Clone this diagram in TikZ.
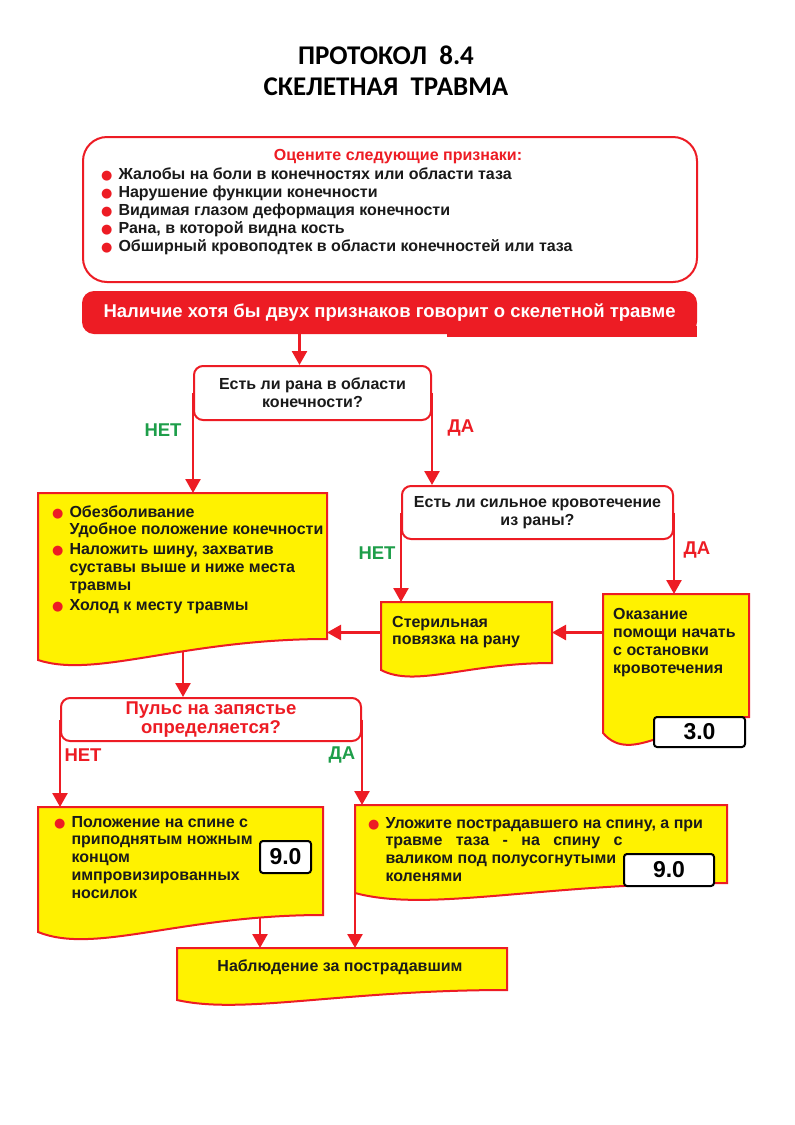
\documentclass[tikz,border=0pt]{standalone}
\usepackage{fontspec}
\setmainfont{Liberation Sans}
\newfontfamily\titlefont{Carlito}
\newfontfamily\dotfont{DejaVu Sans}
\usetikzlibrary{positioning,arrows.meta,calc,backgrounds}
\definecolor{pred}{HTML}{ED1C24}
\definecolor{pyellow}{HTML}{FFF200}
\definecolor{pgreen}{HTML}{1E9E4A}
\definecolor{pdark}{HTML}{1A1A1A}
\newcommand{\bul}{{\dotfont\fontsize{13}{13}\selectfont\textcolor{pred}{●}}}
\newcommand{\bodyfont}{\bfseries\fontsize{16}{17.8}\selectfont}
% yellow document shape on a frame node: node, left drop, trough
\newcommand{\docshape}[3]{%
  \path[docline] (#1.north west) -- (#1.north east) -- (#1.south east)
    .. controls ($(#1.south west)!0.5!(#1.south east)$) and ($(#1.south west)!0.2!(#1.south east)+(0,#3)$)
    .. ($(#1.south west)+(0,#2)$) -- cycle;}
\tikzset{
  arr/.style={draw=pred, line width=2.5pt, -{Triangle[width=15pt,length=14pt]}},
  qbox/.style={draw=pred, line width=2pt, rounded corners=9pt, fill=white, inner sep=0pt,
    anchor=north west, align=center, font=\bodyfont, text=pdark},
  docline/.style={draw=pred, line width=2pt, fill=pyellow},
  docframe/.style={draw=none, inner sep=0pt, outer sep=0pt, anchor=north west},
  numbox/.style={draw=black, line width=2pt, fill=white, rounded corners=3pt, inner sep=0pt,
    anchor=north west, font=\bfseries\fontsize{23}{23}\selectfont},
  txt/.style={anchor=north west, inner sep=0pt, font=\bodyfont, text=pdark},
  lblgreen/.style={font=\bfseries\fontsize{18.5}{18.5}\selectfont, text=pgreen},
  lblred/.style={font=\bfseries\fontsize{18.5}{18.5}\selectfont, text=pred},
  titlef/.style={font=\titlefont\bfseries\fontsize{27}{27}\selectfont, inner sep=0pt}
}
\begin{document}
\begin{tikzpicture}[x=1pt,y=-1pt]
\begin{scope}[on background layer]
\fill[white] (0,0) rectangle (795,1125);
\end{scope}
\useasboundingbox (0,0) rectangle (795,1125);
% title
\node[titlef] (title) at (386,55) {ПРОТОКОЛ\ \ 8.4};
\node[titlef, below=13pt of title] (subtitle) {СКЕЛЕТНАЯ\ \ ТРАВМА};
% signs
\node[docframe, draw=pred, line width=2pt, rounded corners=24pt,
  minimum width=614pt, minimum height=145pt] (signs) at (83,137) {};
\node[font=\bodyfont, text=pred, inner sep=0pt] (signshead) at ($(signs.north)+(8,20)$) {Оцените следующие признаки:};
\node[txt, font=\bfseries\fontsize{16}{18}\selectfont] (signslist) at ($(signs.north west)+(18,30)$) {%
  \begin{tabular}{@{}l@{\hspace{6pt}}l@{}}
  \bul & Жалобы на боли в конечностях или области таза\\
  \bul & Нарушение функции конечности\\
  \bul & Видимая глазом деформация конечности\\
  \bul & Рана, в которой видна кость\\
  \bul & Обширный кровоподтек в области конечностей или таза
  \end{tabular}};
% banner
\node[docframe, fill=pred, rounded corners=12pt, minimum width=615pt, minimum height=43pt,
  text=white, font=\bfseries\fontsize{18.5}{18.5}\selectfont] (banner) at (82,291)
  {Наличие хотя бы двух признаков говорит о скелетной травме};
\fill[pred] ($(banner.south east)+(-250,-8)$) rectangle ($(banner.south east)+(0,3)$);
% questions
\node[qbox, minimum width=237pt, minimum height=54pt] (q1) at (193,365)
  {Есть ли рана в области\\конечности?};
\node[qbox, minimum width=271pt, minimum height=53pt] (q2) at (401,485)
  {Есть ли сильное кровотечение\\из раны?};
\node[qbox, minimum width=300pt, minimum height=43pt, text=pred,
  font=\bfseries\fontsize{18.5}{19}\selectfont] (pulse) at (60,697)
  {Пульс на запястье\\определяется?};
% first aid box
\node[docframe, minimum width=289pt, minimum height=146pt] (care) at (38,493) {};
\docshape{care}{21}{40}
\node[txt] (caretext) at ($(care.north west)+(14,11.5)$) {%
  \begin{tabular}{@{}l@{\hspace{6pt}}l@{}}
  \bul & Обезболивание\\
       & Удобное положение конечности\\[2pt]
  \bul & Наложить шину, захватив\\
       & суставы выше и ниже места\\
       & травмы\\[2pt]
  \bul & Холод к месту травмы
  \end{tabular}};
% dressing
\node[docframe, minimum width=171pt, minimum height=61pt] (dressing) at (381,602) {};
\docshape{dressing}{7}{25}
\node[txt] (dressingtext) at ($(dressing.north west)+(11,12.5)$) {%
  \begin{tabular}{@{}l@{}}Стерильная\\повязка на рану\end{tabular}};
% bleeding
\node[docframe, minimum width=146pt, minimum height=123pt] (bleeding) at (603,594) {};
\docshape{bleeding}{16}{50}
\node[txt] (bleedingtext) at ($(bleeding.north west)+(10,13)$) {%
  \begin{tabular}{@{}l@{}}Оказание\\помощи начать\\с остановки\\кровотечения\end{tabular}};
\node[numbox, minimum width=91pt, minimum height=30pt] (ref30) at (653,716) {3.0};
% no pulse
\node[docframe, minimum width=285pt, minimum height=108pt] (legsup) at (38,807) {};
\docshape{legsup}{17}{40}
\node[txt] (legsuptext) at ($(legsup.north west)+(16,7.5)$) {%
  \begin{tabular}{@{}l@{\hspace{6pt}}l@{}}
  \bul & Положение на спине с\\
       & приподнятым ножным\\
       & концом\\
       & импровизированных\\
       & носилок
  \end{tabular}};
\node[numbox, minimum width=51pt, minimum height=32pt] (ref90a) at (259,840) {9.0};
% pulse present
\node[docframe, minimum width=372pt, minimum height=78pt] (supine) at (355,805) {};
\docshape{supine}{10}{30}
\node[txt] (supinetext) at ($(supine.north west)+(13,10.5)$) {%
  \begin{tabular}{@{}l@{\hspace{6pt}}l@{}}
  \bul & Уложите пострадавшего на спину, а при\\
       & \makebox[237pt][s]{травме таза - на спину с}\\
       & валиком под полусогнутыми\\
       & коленями
  \end{tabular}};
\node[numbox, minimum width=90pt, minimum height=32pt] (ref90b) at (623,853) {9.0};
% observation
\node[docframe, minimum width=330pt, minimum height=42pt] (watch) at (177,948) {};
\docshape{watch}{10}{25}
\node[font=\bodyfont, text=pdark, inner sep=0pt] (watchtext) at ($(watch.center)+(-2,-2)$) {Наблюдение за пострадавшим};
% answers
\node[lblgreen] (q1no) at (163,430) {НЕТ};
\node[lblred] (q1yes) at (461,428) {ДА};
\node[lblgreen] (q2no) at (377,553) {НЕТ};
\node[lblred] (q2yes) at (697,550) {ДА};
\node[lblred] (pulseno) at (83,755) {НЕТ};
\node[lblgreen] (pulseyes) at (342,755) {ДА};
% connectors
\begin{scope}[on background layer]
\draw[arr] ([xshift=-13pt]q1.north |- banner.south) -- ([xshift=-13pt]q1.north);
\draw[arr] (q1.west) -- (q1.west |- care.north);
\draw[arr] (q1.east) -- (q1.east |- q2.north);
\draw[arr] (q2.west) -- (q2.west |- dressing.north);
\draw[arr] (q2.east) -- (q2.east |- bleeding.north);
\draw[arr] (bleeding.west |- dressing.east) -- (dressing.east);
\draw[arr] (dressing.west) -- (dressing.west -| care.east);
\draw[arr] ([xshift=-28pt]pulse.north |- care.south) -- ([xshift=-28pt]pulse.north);
\draw[arr] (pulse.west) -- (pulse.west |- legsup.north);
\draw[arr] (pulse.east) -- (pulse.east |- supine.north);
\draw[arr] ([xshift=83pt]watch.north west |- legsup.south) -- ([xshift=83pt]watch.north west);
\draw[arr] (supine.west) -- (supine.west |- watch.north);
\end{scope}
\end{tikzpicture}
\end{document}
